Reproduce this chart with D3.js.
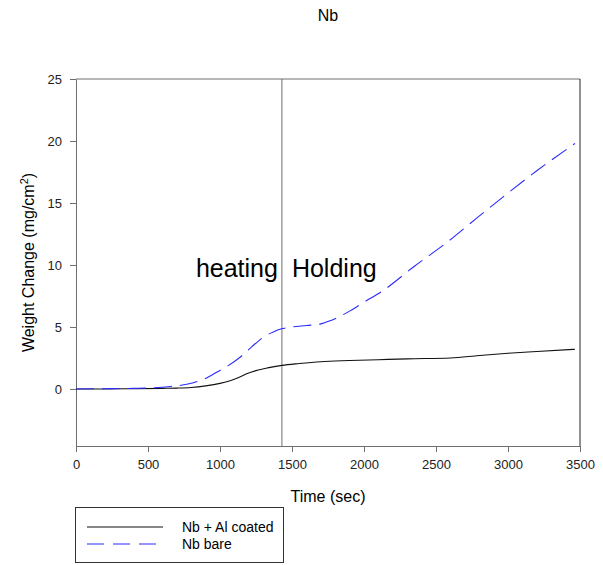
<!DOCTYPE html>
<html>
<head>
<meta charset="utf-8">
<script src="https://cdn.jsdelivr.net/npm/d3@7"></script>
<style>
  body { margin: 0; background: #fff; }
  text { font-family: Arial, "Liberation Sans", sans-serif; }
</style>
</head>
<body>
<div id="viz"></div>
<script>
const width = 603;
const height = 565;
const margin = {top: 79, right: 23, bottom: 119, left: 76};

// Nb + Al coated (time in sec, weight change in mg/cm2)
const coatedTime = [0, 200, 400, 600, 700, 800, 900, 1000, 1070, 1130, 1185, 1250, 1330, 1430, 1550, 1700, 1900, 2100, 2300, 2600, 2800, 3000, 3200, 3465];
const coatedValue = [0, 0, 0.02, 0.05, 0.07, 0.12, 0.25, 0.45, 0.66, 0.92, 1.22, 1.48, 1.7, 1.9, 2.05, 2.2, 2.29, 2.36, 2.43, 2.5, 2.7, 2.88, 3.02, 3.2];

// Nb bare
const bareTime = [0, 200, 400, 550, 653, 730, 815, 900, 977, 1060, 1139, 1220, 1301, 1370, 1428, 1500, 1602, 1700, 1764, 1840, 1903, 2000, 2134, 2350, 2574, 2806, 3000, 3200, 3465];
const bareValue = [0, 0.02, 0.05, 0.1, 0.2, 0.3, 0.5, 0.85, 1.35, 1.9, 2.56, 3.4, 4.17, 4.6, 4.85, 5.0, 5.12, 5.25, 5.5, 5.9, 6.3, 7.0, 7.95, 9.9, 11.8, 14.0, 15.8, 17.6, 19.8];

const xTicks = [0, 500, 1000, 1500, 2000, 2500, 3000, 3500];
const yTicks = [0, 5, 10, 15, 20, 25];
const holdStart = 1430;

const legendItems = ['Nb + Al coated', 'Nb bare'];

const coated = coatedTime.map((t, i) => ({t, v: coatedValue[i]}));
const bare = bareTime.map((t, i) => ({t, v: bareValue[i]}));

const axisColor = '#6e6e6e';

const x = d3.scaleLinear()
  .domain([0, 3500])
  .range([margin.left, width - margin.right]);
const y = d3.scaleLinear()
  .domain([-4.6, 25])
  .range([height - margin.bottom, margin.top]);

const svg = d3.select('#viz')
  .append('svg')
    .attr('width', width)
    .attr('height', height)
    .attr('viewBox', `0 0 ${width} ${height}`);

// Frame (top and right)
svg.append('line')
  .attr('x1', x(0)).attr('x2', x(3500))
  .attr('y1', y(25)).attr('y2', y(25))
  .attr('stroke', axisColor);
svg.append('line')
  .attr('x1', x(3500)).attr('x2', x(3500))
  .attr('y1', y(25)).attr('y2', y(-4.6))
  .attr('stroke', '#222');

// Axes
const xAxis = svg.append('g')
  .attr('transform', `translate(0, ${y(-4.6)})`)
  .call(d3.axisBottom(x).tickValues(xTicks).tickFormat(d3.format('d'))
    .tickSize(6).tickPadding(8).tickSizeOuter(0));
const yAxis = svg.append('g')
  .attr('transform', `translate(${x(0)}, 0)`)
  .call(d3.axisLeft(y).tickValues(yTicks).tickSize(6).tickPadding(8).tickSizeOuter(0));

[xAxis, yAxis].forEach(ax => {
  ax.select('.domain').attr('stroke', axisColor);
  ax.selectAll('.tick line').attr('stroke', axisColor);
  ax.selectAll('.tick text')
    .attr('fill', '#222')
    .style('font-size', '13px')
    .style('font-family', 'Arial, "Liberation Sans", sans-serif');
});

// Holding start line
svg.append('line')
  .attr('x1', x(holdStart)).attr('x2', x(holdStart))
  .attr('y1', y(25)).attr('y2', y(-4.6))
  .attr('stroke', axisColor);

// Curves
const line = d3.line()
  .x(d => x(d.t))
  .y(d => y(d.v))
  .curve(d3.curveMonotoneX);

svg.append('path')
  .attr('d', line(coated))
  .attr('fill', 'none')
  .attr('stroke', '#111')
  .attr('stroke-width', 1.1);

svg.append('path')
  .attr('d', line(bare))
  .attr('fill', 'none')
  .attr('stroke', '#2a2aff')
  .attr('stroke-width', 1.1)
  .attr('stroke-dasharray', '18,8');

// Annotations
svg.append('text')
  .attr('x', x(holdStart) - 4)
  .attr('y', 277)
  .attr('text-anchor', 'end')
  .style('font-size', '25px')
  .text('heating');
svg.append('text')
  .attr('x', x(holdStart) + 10)
  .attr('y', 277)
  .style('font-size', '25px')
  .text('Holding');

// Title
svg.append('text')
  .attr('x', (x(0) + x(3500)) / 2)
  .attr('y', 21)
  .attr('text-anchor', 'middle')
  .style('font-size', '16px')
  .text('Nb');

// Axis titles
svg.append('text')
  .attr('x', (x(0) + x(3500)) / 2)
  .attr('y', 502)
  .attr('text-anchor', 'middle')
  .style('font-size', '16px')
  .text('Time (sec)');

const yTitle = svg.append('text')
  .attr('transform', `translate(34, ${(y(25) + y(-4.6)) / 2}) rotate(-90)`)
  .attr('text-anchor', 'middle')
  .style('font-size', '16px');
yTitle.append('tspan').text('Weight Change (mg/cm');
yTitle.append('tspan').attr('dy', -6).style('font-size', '11px').text('2');
yTitle.append('tspan').attr('dy', 6).text(')');

// Legend
const legend = svg.append('g').attr('class', 'legend');
legend.append('rect')
  .attr('x', 75.5).attr('y', 507.5)
  .attr('width', 208).attr('height', 55)
  .attr('fill', 'none')
  .attr('stroke', '#333');

const legendStyles = [
  {stroke: '#111', dash: null},
  {stroke: '#2a2aff', dash: '17,9'}
];
legendItems.forEach((label, i) => {
  const ly = 527 + i * 17;
  legend.append('line')
    .attr('x1', 87).attr('x2', 163)
    .attr('y1', ly).attr('y2', ly)
    .attr('stroke', legendStyles[i].stroke)
    .attr('stroke-width', 1.1)
    .attr('stroke-dasharray', legendStyles[i].dash);
  legend.append('text')
    .attr('x', 182)
    .attr('y', ly + 5)
    .style('font-size', '14px')
    .text(label);
});
</script>
</body>
</html>
